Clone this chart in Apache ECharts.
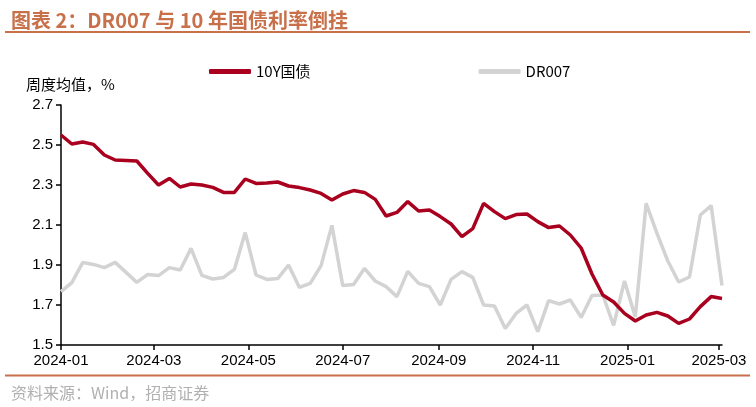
<!DOCTYPE html>
<html>
<head>
<meta charset="utf-8">
<script src="https://cdn.jsdelivr.net/npm/echarts@6/dist/echarts.min.js"></script>
<style>
html,body{margin:0;padding:0;background:#fff;}
#c{width:756px;height:407px;}
</style>
</head>
<body>
<div id="c"></div>
<script>
// Weekly dates (Mondays)
const dates = [
 '2024-01-01','2024-01-08','2024-01-15','2024-01-22','2024-01-29',
 '2024-02-05','2024-02-12','2024-02-19','2024-02-26',
 '2024-03-04','2024-03-11','2024-03-18','2024-03-25',
 '2024-04-01','2024-04-08','2024-04-15','2024-04-22','2024-04-29',
 '2024-05-06','2024-05-13','2024-05-20','2024-05-27',
 '2024-06-03','2024-06-10','2024-06-17','2024-06-24',
 '2024-07-01','2024-07-08','2024-07-15','2024-07-22','2024-07-29',
 '2024-08-05','2024-08-12','2024-08-19','2024-08-26',
 '2024-09-02','2024-09-09','2024-09-16','2024-09-23','2024-09-30',
 '2024-10-07','2024-10-14','2024-10-21','2024-10-28',
 '2024-11-04','2024-11-11','2024-11-18','2024-11-25',
 '2024-12-02','2024-12-09','2024-12-16','2024-12-23','2024-12-30',
 '2025-01-06','2025-01-13','2025-01-20','2025-01-27',
 '2025-02-03','2025-02-10','2025-02-17','2025-02-24',
 '2025-03-03'
];
const cgb10y = [
 2.55,2.505,2.515,2.503,2.45,2.425,2.423,2.42,2.358,2.30,
 2.333,2.29,2.305,2.30,2.288,2.263,2.263,2.33,2.308,2.31,
 2.315,2.295,2.287,2.275,2.258,2.225,2.255,2.272,2.263,2.228,
 2.145,2.163,2.217,2.17,2.175,2.142,2.105,2.042,2.082,2.208,
 2.167,2.132,2.152,2.155,2.117,2.087,2.095,2.05,1.985,1.855,
 1.75,1.715,1.658,1.62,1.65,1.663,1.645,1.608,1.63,1.692,
 1.742,1.733
];
const dr007 = [
 1.767,1.812,1.912,1.903,1.887,1.913,1.863,1.813,1.853,1.847,
 1.887,1.875,1.983,1.848,1.83,1.838,1.878,2.062,1.85,1.828,
 1.832,1.90,1.788,1.808,1.897,2.098,1.797,1.803,1.883,1.82,
 1.792,1.742,1.868,1.808,1.792,1.70,1.828,1.867,1.838,1.70,
 1.695,1.583,1.658,1.70,1.567,1.722,1.705,1.725,1.638,1.748,
 1.75,1.598,1.82,1.64,2.208,2.058,1.92,1.815,1.84,2.15,
 2.197,1.798
];
const seriesNames = ['10Y国债','DR007'];
const xTickLabels = ['2024-01','2024-03','2024-05','2024-07','2024-09','2024-11','2025-01','2025-03'];
const yMin = 1.5, yMax = 2.7, yStep = 0.2;

const toT = s => Date.UTC(+s.slice(0,4), +s.slice(5,7)-1, s.length > 7 ? +s.slice(8,10) : 1);
const tickVals = xTickLabels.map(s => toT(s));
const pad = n => (n < 10 ? '0' : '') + n;
const fam = '"Liberation Sans", Arial, "Noto Sans CJK SC", sans-serif';
const cjk = '"Noto Sans CJK SC", "Liberation Sans", sans-serif';
const accent = '#c8704a';

const chart = echarts.init(document.getElementById('c'));
chart.setOption({
  backgroundColor: '#fff',
  animation: false,
  title: [
    {text: '图表 2：DR007 与 10 年国债利率倒挂', left: 6, top: 5,
     textStyle: {color: accent, fontSize: 20, fontWeight: 'bold', fontFamily: cjk}},
    {text: '资料来源：Wind，招商证券', left: 6, top: 380,
     textStyle: {color: '#b0b0b0', fontSize: 16, fontWeight: 'normal', fontFamily: cjk}}
  ],
  graphic: [
    {type: 'line', shape: {x1: 5, y1: 32, x2: 750, y2: 32}, style: {stroke: accent, lineWidth: 2}},
    {type: 'line', shape: {x1: 5, y1: 375.5, x2: 750, y2: 375.5}, style: {stroke: accent, lineWidth: 2}},
    {type: 'text', left: 26, top: 77, style: {text: '周度均值，%', fill: '#000', font: '15px ' + cjk}}
  ],
  legend: {
    left: 204, top: 59, itemWidth: 42, itemHeight: 5, itemGap: 168,
    icon: 'roundRect',
    textStyle: {color: '#000', fontSize: 15, fontFamily: cjk},
    data: seriesNames
  },
  grid: {left: 61, right: 34, top: 105, bottom: 62, containLabel: false},
  xAxis: {
    type: 'value',
    min: toT(dates[0]),
    max: toT(dates[dates.length-1]),
    splitLine: {show: false},
    axisLine: {lineStyle: {color: '#000', width: 1.5}},
    axisTick: {show: true, length: 5, lineStyle: {color: '#000', width: 1.5}, customValues: tickVals},
    axisLabel: {
      customValues: tickVals,
      color: '#000', fontSize: 15, fontFamily: fam, margin: 8,
      formatter: v => { const d = new Date(v); return d.getUTCFullYear() + '-' + pad(d.getUTCMonth()+1); }
    }
  },
  yAxis: {
    type: 'value', min: yMin, max: yMax, interval: yStep,
    splitLine: {show: false},
    axisLine: {show: true, lineStyle: {color: '#000', width: 1.5}},
    axisTick: {show: true, length: 5, lineStyle: {color: '#000', width: 1.5}},
    axisLabel: {color: '#000', fontSize: 15, fontFamily: fam, margin: 8,
      formatter: v => v.toFixed(1)}
  },
  series: [
    {name: seriesNames[0], type: 'line', showSymbol: false, z: 3,
     data: dates.map((d,i) => [toT(d), cgb10y[i]]),
     lineStyle: {color: '#a8001e', width: 3.5}, itemStyle: {color: '#a8001e'}},
    {name: seriesNames[1], type: 'line', showSymbol: false, z: 2,
     data: dates.map((d,i) => [toT(d), dr007[i]]),
     lineStyle: {color: '#d3d3d3', width: 3.5}, itemStyle: {color: '#d3d3d3'}}
  ]
});
</script>
</body>
</html>
